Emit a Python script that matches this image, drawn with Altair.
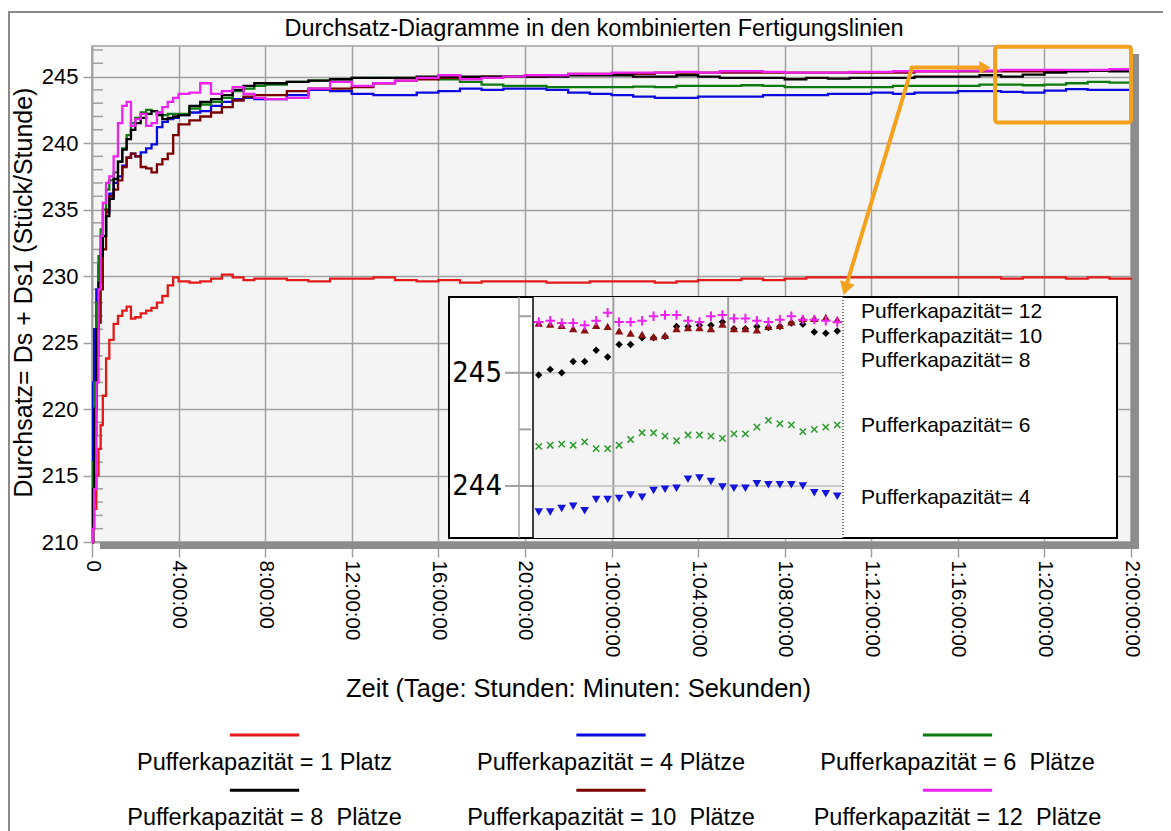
import altair as alt
import pandas as pd

# ---------------- data ----------------
TITLE = "Durchsatz-Diagramme in den kombinierten Fertigungslinien"
X_TITLE = "Zeit (Tage: Stunden: Minuten: Sekunden)"
Y_TITLE = "Durchsatz= Ds + Ds1 (Stück/Stunde)"

# time in hours
T = [0, 0.05, 0.1, 0.2, 0.3, 0.4, 0.5, 0.65, 0.8, 1.0,
     1.2, 1.4, 1.6, 1.8, 2.0, 2.25, 2.5, 2.75, 3.0, 3.25,
     3.5, 3.75, 4.0, 4.5, 5.0, 5.5, 6.0, 6.5, 7.0, 7.5,
     8.0, 9, 10, 11, 12, 13, 14, 15, 16, 17,
     18, 19, 20, 21, 22, 23, 24, 25, 26, 27,
     28, 29, 30, 31, 32, 33, 34, 35, 36, 37,
     38, 39, 40, 41, 42, 43, 44, 45, 46, 47,
     48]

P1 = [210.0, 211.0, 212.5, 215.0, 217.0, 218.8, 221.0, 223.8, 225.2, 226.4,
      227.0, 227.4, 227.7, 226.8, 226.9, 227.2, 227.4, 227.6, 228.0, 228.5,
      229.3, 229.9, 229.6, 229.5, 229.6, 229.8, 230.1, 229.9, 229.7, 229.8,
      229.8, 229.7, 229.6, 229.8, 229.8, 229.9, 229.7, 229.6, 229.7, 229.5,
      229.6, 229.6, 229.6, 229.5, 229.5, 229.6, 229.6, 229.6, 229.5, 229.6,
      229.7, 229.7, 229.8, 229.7, 229.8, 229.9, 229.9, 229.9, 229.9, 229.9,
      229.9, 229.9, 229.9, 229.9, 229.8, 229.9, 229.9, 229.8, 229.9, 229.8,
      229.9]

P4 = [212.0, 222.0, 226.0, 229.0, 230.8, 232.0, 233.0, 234.8, 236.2, 237.0,
      237.5, 238.3, 238.9, 239.2, 239.0, 239.3, 239.6, 239.9, 241.2, 241.6,
      241.8, 241.9, 242.1, 242.3, 242.4, 242.8, 243.1, 243.3, 243.4, 243.3,
      243.3, 243.6, 244.0, 243.9, 243.7, 243.6, 243.6, 243.8, 243.9, 244.1,
      244.0, 244.1, 244.1, 244.0, 243.8, 243.7, 243.6, 243.5, 243.4, 243.4,
      243.5, 243.5, 243.5, 243.6, 243.6, 243.6, 243.7, 243.7, 243.8, 243.7,
      243.8, 243.8, 243.9, 243.9, 243.85, 243.8, 243.95, 244.05, 244.0, 244.0,
      243.9]

P6 = [210.0, 216.0, 222.0, 228.0, 231.5, 233.5, 235.0, 236.5, 237.2, 237.8,
      238.6, 239.6, 240.6, 241.5, 241.9, 242.3, 242.5, 242.4, 242.3, 242.1,
      242.2, 242.2, 242.2, 242.6, 242.9, 243.1, 243.4, 243.9, 244.1, 244.3,
      244.4, 244.6, 244.7, 244.8, 244.9, 244.9, 244.9, 244.9, 244.8, 244.6,
      244.4, 244.3, 244.3, 244.2, 244.2, 244.2, 244.2, 244.25, 244.2, 244.3,
      244.3, 244.3, 244.35, 244.3, 244.2, 244.2, 244.2, 244.2, 244.2, 244.3,
      244.3, 244.3, 244.3, 244.4, 244.4, 244.35, 244.4, 244.5, 244.6, 244.55,
      244.55]

P8 = [210.0, 214.0, 220.0, 226.0, 229.5, 231.5, 233.0, 234.5, 235.8, 237.3,
      238.6, 239.5, 240.3, 241.0, 241.5, 241.9, 242.2, 242.4, 242.1, 241.8,
      241.9, 242.0, 242.1, 242.8, 243.1, 243.3, 243.6, 244.0, 244.3, 244.5,
      244.5, 244.6, 244.7, 244.8, 244.9, 244.9, 244.9, 245.0, 245.0, 245.0,
      245.0, 245.0, 245.0, 245.0, 245.1, 245.1, 245.1, 245.0, 245.0, 245.1,
      245.0, 244.9, 244.9, 244.9, 244.8, 244.9, 244.85, 244.9, 244.9, 244.9,
      245.0, 245.0, 245.0, 245.1, 245.0, 245.15, 245.3, 245.4, 245.45, 245.4,
      245.4]

P10 = [210.0, 213.0, 218.0, 224.0, 226.5, 229.0, 232.0, 235.0, 236.0, 236.5,
       237.2, 238.2, 238.9, 239.2, 239.0, 238.2, 238.1, 237.8, 238.4, 238.8,
       239.2, 240.6, 241.4, 241.7, 242.0, 242.3, 242.7, 243.2, 243.5, 243.6,
       243.6, 243.9, 244.1, 244.1, 244.2, 244.5, 244.7, 244.8, 244.9, 244.9,
       245.0, 245.0, 245.0, 245.1, 245.2, 245.2, 245.2, 245.2, 245.3, 245.3,
       245.3, 245.3, 245.3, 245.3, 245.3, 245.3, 245.3, 245.3, 245.3, 245.3,
       245.4, 245.4, 245.4, 245.4, 245.4, 245.4, 245.4, 245.45, 245.45, 245.5,
       245.5]

P12 = [210.0, 211.0, 214.0, 222.0, 229.0, 233.0, 235.5, 237.0, 237.5, 239.0,
       241.5, 242.8, 243.1, 241.3, 241.8, 242.2, 241.3, 241.5, 242.3, 242.7,
       243.1, 243.4, 243.7, 243.8, 244.5, 243.7, 243.9, 244.2, 243.7, 243.4,
       243.3, 243.4, 244.1, 244.6, 244.3, 244.5, 244.7, 244.9, 245.1, 244.8,
       244.9, 245.0, 245.1, 245.1, 245.2, 245.2, 245.3, 245.3, 245.3, 245.35,
       245.3, 245.4, 245.4, 245.35, 245.3, 245.3, 245.3, 245.35, 245.35, 245.4,
       245.4, 245.4, 245.45, 245.45, 245.5, 245.5, 245.5, 245.5, 245.5, 245.55,
       245.55]

for _s in (P1, P4, P6, P8, P10, P12):
    assert len(_s) == len(T)

C_RED, C_BLUE, C_GREEN = "#e41a1a", "#0a0ae0", "#0c7a0c"
C_BLACK, C_DARKRED, C_MAGENTA = "#000000", "#7a0000", "#ee22ee"
ORANGE = "#f4a11d"

# draw order: red, blue, green, dark red, black, magenta (magenta on top)
SERIES = [(P1, C_RED), (P4, C_BLUE), (P6, C_GREEN),
          (P10, C_DARKRED), (P8, C_BLACK), (P12, C_MAGENTA)]

X_TICKS = [0, 4, 8, 12, 16, 20, 24, 28, 32, 36, 40, 44, 48]
X_LABELS = ["0", "4:00:00", "8:00:00", "12:00:00", "16:00:00", "20:00:00",
            "1:00:00:00", "1:04:00:00", "1:08:00:00", "1:12:00:00",
            "1:16:00:00", "1:20:00:00", "2:00:00:00"]
Y_TICKS = [210, 215, 220, 225, 230, 235, 240, 245]
Y_MINOR = [v for v in range(211, 248) if v % 5 != 0]

# inset (zoom of the last hours)
INSET_T = [42.7, 42.9, 43.1, 43.3, 43.5, 43.7, 43.9, 44.1, 44.3, 44.5,
           44.7, 44.9, 45.1, 45.3, 45.5, 45.7, 45.9, 46.1, 46.3, 46.5,
           46.7, 46.9, 47.1, 47.3, 47.5, 47.7, 47.9]
I4 = [243.77, 243.77, 243.80, 243.82, 243.78, 243.88, 243.88, 243.89, 243.92, 243.90,
      243.96, 243.97, 243.98, 244.06, 244.07, 244.04, 243.99, 243.98, 243.98, 244.02,
      244.01, 244.01, 244.01, 244.00, 243.94, 243.93, 243.91]
I6 = [244.35, 244.36, 244.37, 244.36, 244.39, 244.33, 244.33, 244.36, 244.41, 244.47,
      244.47, 244.44, 244.40, 244.45, 244.45, 244.44, 244.42, 244.46, 244.46, 244.52,
      244.58, 244.55, 244.54, 244.48, 244.50, 244.52, 244.54]
I8 = [244.98, 245.03, 245.00, 245.10, 245.10, 245.20, 245.14, 245.25, 245.25, 245.31,
      245.31, 245.32, 245.41, 245.41, 245.42, 245.42, 245.45, 245.39, 245.39, 245.41,
      245.40, 245.41, 245.44, 245.43, 245.36, 245.35, 245.37]
I10 = [245.44, 245.43, 245.42, 245.39, 245.38, 245.42, 245.41, 245.37, 245.35, 245.34,
       245.32, 245.33, 245.39, 245.40, 245.40, 245.39, 245.43, 245.39, 245.39, 245.38,
       245.41, 245.42, 245.45, 245.48, 245.48, 245.49, 245.47]
I12 = [245.45, 245.46, 245.44, 245.44, 245.42, 245.46, 245.53, 245.45, 245.45, 245.46,
       245.50, 245.51, 245.51, 245.46, 245.45, 245.50, 245.51, 245.48, 245.48, 245.46,
       245.45, 245.47, 245.50, 245.47, 245.47, 245.46, 245.45]
INSET_X_DOMAIN = [42.6, 48.0]
INSET_Y_DOMAIN = [243.54, 245.67]
INSET_GRID_T = [44, 46]
INSET_GRID_V = [244, 245]
INSET_MINOR_V = [244.5, 245.5]
INSET_LABELS = ["Pufferkapazität= 12", "Pufferkapazität= 10", "Pufferkapazität= 8",
                "Pufferkapazität= 6", "Pufferkapazität= 4"]
INSET_LABEL_V = [245.54, 245.32, 245.10, 244.53, 243.89]

# orange zoom marker (in main data coordinates)
ZOOM_BOX = dict(x0=[41.72], x1=[48.0], y0=[241.54], y1=[247.25])
ARROW_T = [41.2, 37.88, 34.85]
ARROW_V = [245.68, 245.68, 229.3]

LEGEND_LABELS = ["Pufferkapazität = 1 Platz", "Pufferkapazität = 4 Plätze",
                 "Pufferkapazität = 6\u00a0 Plätze", "Pufferkapazität = 8\u00a0 Plätze",
                 "Pufferkapazität = 10\u00a0 Plätze", "Pufferkapazität = 12\u00a0 Plätze"]
LEGEND_COLORS = [C_RED, C_BLUE, C_GREEN, C_BLACK, C_DARKRED, C_MAGENTA]

# ---------------- styling ----------------
FONT = "Liberation Sans"
NARROW = "'Liberation Sans Narrow', 'DejaVu Sans Condensed', 'Roboto Condensed', 'Liberation Sans', sans-serif"
GRID = "#a0a0a0"
W, H = 1039, 496
dummy = pd.DataFrame({"k": [0]})

XS = alt.Scale(domain=[0, 48], nice=False, zero=False)
YS = alt.Scale(domain=[210, 247.3], nice=False, zero=False)

label_arr = "[" + ",".join("'" + s + "'" for s in X_LABELS) + "]"
X_AX = alt.Axis(values=X_TICKS, labelExpr=label_arr + "[round(datum.value / 4)]",
                labelAngle=90, labelFont=FONT, labelFontSize=20.5, labelColor="black",
                labelPadding=3, labelFlush=False, labelOverlap=False, labelBound=False,
                tickSize=15, tickColor=GRID, tickWidth=1.5,
                grid=True, gridColor=GRID, gridWidth=1.5,
                domainColor=GRID, domainWidth=1.5,
                title=X_TITLE, titleFont=FONT, titleFontSize=25.5, titleFontWeight="normal",
                titleColor="black", titleX=486, titleY=146, titleBaseline="middle",
                titleAlign="center")
Y_AX = alt.Axis(values=Y_TICKS, labelFont=FONT, labelFontSize=22, labelColor="black",
                labelPadding=5, labelFlush=False, labelOverlap=False,
                tickSize=9, tickColor=GRID, tickWidth=1.5,
                grid=True, gridColor=GRID, gridWidth=1.5,
                domainColor=GRID, domainWidth=1.5,
                title=Y_TITLE, titleFont=FONT, titleFontSize=25, titleFontWeight="normal",
                titleColor="black", titleX=-69, titleY=246, titleBaseline="middle",
                titleAlign="center")


def mx(f="t"):
    return alt.X(f + ":Q", scale=XS, axis=X_AX)


def my(f="v"):
    return alt.Y(f + ":Q", scale=YS, axis=Y_AX)


# ---------------- main chart ----------------
shadow_b = alt.Chart(dummy).mark_rect(color="#8c8c8c").encode(
    x=alt.value(8), x2=alt.value(W + 8), y=alt.value(H), y2=alt.value(H + 7))
shadow_r = alt.Chart(dummy).mark_rect(color="#8c8c8c").encode(
    x=alt.value(W), x2=alt.value(W + 8), y=alt.value(8), y2=alt.value(H + 7))
minor = alt.Chart(pd.DataFrame({"v": Y_MINOR})).mark_rule(color=GRID, strokeWidth=1.5).encode(
    y=my(), x=alt.value(0), x2=alt.value(11))

lines = []
for vals, col in SERIES:
    df = pd.DataFrame({"t": T, "v": vals})
    lines.append(alt.Chart(df).mark_line(color=col, strokeWidth=2.3, interpolate="step-after")
                 .encode(x=mx(), y=my()))

frame_l = alt.Chart(dummy).mark_rule(color="#8a8a8a", strokeWidth=2).encode(
    x=alt.value(-83), y=alt.value(-34), y2=alt.value(900))
frame_t = alt.Chart(dummy).mark_rule(color="#8a8a8a", strokeWidth=2).encode(
    y=alt.value(-34), x=alt.value(-84), x2=alt.value(1200))
title = alt.Chart(pd.DataFrame({"s": [TITLE]})).mark_text(
    font=FONT, fontSize=23.5, align="center", baseline="middle", color="black").encode(
    x=alt.value(502), y=alt.value(-17), text="s:N")

main = alt.layer(shadow_b, shadow_r, minor, *lines, frame_l, frame_t, title)

# ---------------- inset ----------------
IXS = alt.Scale(domain=INSET_X_DOMAIN, range=[441, 751], nice=False, zero=False)
IYS = alt.Scale(domain=INSET_Y_DOMAIN, range=[492, 251], nice=False, zero=False)


def ix(f="t"):
    return alt.X(f + ":Q", scale=IXS, axis=None)


def iy(f="v"):
    return alt.Y(f + ":Q", scale=IYS, axis=None)


box_df = pd.DataFrame({"x0": [INSET_X_DOMAIN[0]], "x1": [INSET_X_DOMAIN[1]],
                       "y0": [INSET_Y_DOMAIN[0]], "y1": [INSET_Y_DOMAIN[1]]})
inset_box = alt.Chart(dummy).mark_rect(fill="white", stroke="black", strokeWidth=2).encode(
    x=alt.value(357), x2=alt.value(1025), y=alt.value(251), y2=alt.value(492))
inner_bg = alt.Chart(box_df).mark_rect(fill="#f4f4f4").encode(
    x=ix("x0"), x2="x1:Q", y=iy("y0"), y2="y1:Q")
vgrid = alt.Chart(pd.DataFrame({"t": INSET_GRID_T, "y0": INSET_Y_DOMAIN[0], "y1": INSET_Y_DOMAIN[1]})
                  ).mark_rule(color="#a0a0a0", strokeWidth=2).encode(x=ix(), y=iy("y0"), y2="y1:Q")
hgrid = alt.Chart(pd.DataFrame({"v": INSET_GRID_V, "x0": INSET_X_DOMAIN[0], "x1": INSET_X_DOMAIN[1]})
                  ).mark_rule(color="#bdbdbd", strokeWidth=1.5).encode(y=iy(), x=ix("x0"), x2="x1:Q")
left_border = alt.Chart(box_df).mark_rule(color="black", strokeWidth=1.5).encode(
    x=ix("x0"), y=iy("y0"), y2="y1:Q")
right_border = alt.Chart(box_df).mark_rule(color="#555555", strokeWidth=1.5, strokeDash=[1, 2]).encode(
    x=ix("x1"), y=iy("y0"), y2="y1:Q")
iaxis = alt.Chart(box_df).mark_rule(color=GRID, strokeWidth=1.5).encode(
    x=alt.value(427), y=iy("y0"), y2="y1:Q")
imajor = alt.Chart(pd.DataFrame({"v": INSET_GRID_V})).mark_rule(color=GRID, strokeWidth=2).encode(
    y=iy(), x=alt.value(413), x2=alt.value(441))
iminor = alt.Chart(pd.DataFrame({"v": INSET_MINOR_V})).mark_rule(color=GRID, strokeWidth=2).encode(
    y=iy(), x=alt.value(427), x2=alt.value(439))
ilabels = alt.Chart(pd.DataFrame({"v": INSET_GRID_V, "s": [str(v) for v in INSET_GRID_V]})).mark_text(
    font=NARROW, fontSize=29, align="right", baseline="middle", color="black").encode(
    y=iy(), x=alt.value(410), text="s:N")

PLUS = "M-1,0L1,0M0,-1L0,1"
CROSS = "M-1,-1L1,1M-1,1L1,-1"
markers = [
    (I4, dict(shape="triangle-down", filled=True, size=75, color="#1414dc")),
    (I6, dict(shape=CROSS, filled=False, size=40, strokeWidth=1.5, color="#2a9a2a")),
    (I8, dict(shape="diamond", filled=True, size=55, color="black")),
    (I10, dict(shape="triangle-up", filled=True, size=70, color="#8b1010")),
    (I12, dict(shape=PLUS, filled=False, size=90, strokeWidth=2, color="#f020f0")),
]
mark_layers = []
for vals, kw in markers:
    df = pd.DataFrame({"t": INSET_T, "v": vals})
    mark_layers.append(alt.Chart(df).mark_point(opacity=1, **kw).encode(x=ix(), y=iy()))

itext = alt.Chart(pd.DataFrame({"v": INSET_LABEL_V, "s": INSET_LABELS})).mark_text(
    font=FONT, fontSize=21, align="left", baseline="middle", color="black").encode(
    y=iy(), x=alt.value(769), text="s:N")

inset = alt.layer(inset_box, inner_bg, vgrid, hgrid, iaxis, imajor, iminor, ilabels,
                  *mark_layers, left_border, right_border, itext)

# ---------------- orange annotation ----------------
AXS = alt.Scale(domain=[0, 48], nice=False, zero=False)
AYS = alt.Scale(domain=[210, 247.3], nice=False, zero=False)
zoom_rect = alt.Chart(pd.DataFrame(ZOOM_BOX)).mark_rect(
    fillOpacity=0, stroke=ORANGE, strokeWidth=4, cornerRadius=3).encode(
    x=alt.X("x0:Q", scale=AXS, axis=None), x2="x1:Q",
    y=alt.Y("y0:Q", scale=AYS, axis=None), y2="y1:Q")
arrow = alt.Chart(pd.DataFrame({"t": ARROW_T, "v": ARROW_V, "o": [0, 1, 2]})).mark_line(
    color=ORANGE, strokeWidth=4).encode(
    x=alt.X("t:Q", scale=AXS, axis=None), y=alt.Y("v:Q", scale=AYS, axis=None), order="o:Q")
head_r = alt.Chart(pd.DataFrame({"t": [41.25], "v": [245.68]})).mark_point(
    shape="triangle-right", filled=True, size=170, color=ORANGE, opacity=1).encode(
    x=alt.X("t:Q", scale=AXS, axis=None), y=alt.Y("v:Q", scale=AYS, axis=None))
head_d = alt.Chart(pd.DataFrame({"t": [34.81], "v": [229.04]})).mark_point(
    shape="triangle-down", filled=True, size=230, angle=16.7, color=ORANGE, opacity=1).encode(
    x=alt.X("t:Q", scale=AXS, axis=None), y=alt.Y("v:Q", scale=AYS, axis=None))
annot = alt.layer(zoom_rect, arrow, head_r, head_d)

# ---------------- legend (3 x 2 grid, line above label) ----------------
leg = pd.DataFrame({
    "label": LEGEND_LABELS,
    "col": [0, 1, 2, 0, 1, 2],
    "row": [0, 0, 0, 1, 1, 1],
})
leg["x0"] = leg["col"] - 0.1
leg["x1"] = leg["col"] + 0.1
leg["yl"] = leg["row"] * 2
leg["yt"] = leg["row"] * 2 + 1
LXS = alt.Scale(domain=[0, 2], range=[172.5, 865.5], nice=False, zero=False)
LYS = alt.Scale(domain=[0, 3], range=[689, 772], nice=False, zero=False)
leg_lines = alt.Chart(leg).mark_rule(strokeWidth=3).encode(
    x=alt.X("x0:Q", scale=LXS, axis=None), x2="x1:Q",
    y=alt.Y("yl:Q", scale=LYS, axis=None),
    color=alt.Color("label:N", scale=alt.Scale(domain=LEGEND_LABELS, range=LEGEND_COLORS), legend=None))
leg_text = alt.Chart(leg).mark_text(font=FONT, fontSize=23.5, align="center", baseline="middle",
                                    color="black").encode(
    x=alt.X("col:Q", scale=LXS, axis=None), y=alt.Y("yt:Q", scale=LYS, axis=None), text="label:N")
legend = alt.layer(leg_lines, leg_text)

chart = alt.layer(main, inset, annot, legend).resolve_scale(
    x="independent", y="independent"
).properties(
    width=W, height=H,
    autosize=alt.AutoSizeParams(type="none"),
    padding={"left": 84, "top": 38, "right": 32, "bottom": 289},
).configure(font=FONT, background="white").configure_view(
    fill="#f4f4f4", stroke=GRID, strokeWidth=1.5)

chart.save("out.html", embed_options={"renderer": "svg", "actions": False})
